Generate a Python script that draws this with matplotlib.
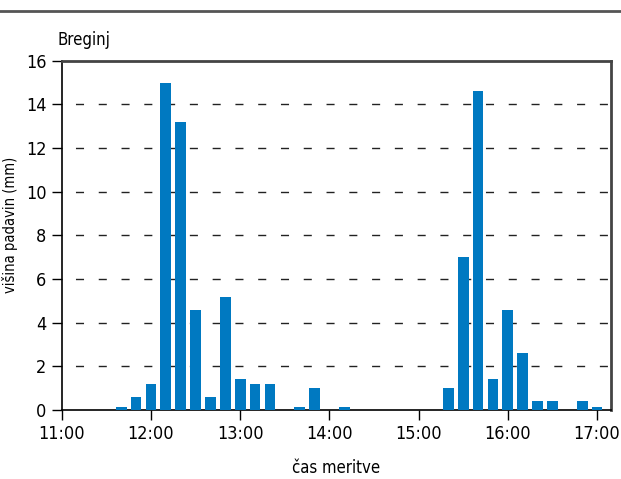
import matplotlib.pyplot as plt
from matplotlib.lines import Line2D

plt.rcParams['font.family'] = ['DejaVu Sans']
plt.rcParams['font.stretch'] = 'condensed'

# meritve na 10 minut
times = ['11:40', '11:50', '12:00', '12:10', '12:20', '12:30', '12:40', '12:50',
         '13:00', '13:10', '13:20', '13:40', '13:50', '14:10',
         '15:20', '15:30', '15:40', '15:50', '16:00', '16:10', '16:20', '16:30',
         '16:50', '17:00']
rain = [0.15, 0.6, 1.2, 15.0, 13.2, 4.6, 0.6, 5.2,
        1.4, 1.2, 1.2, 0.15, 1.0, 0.15,
        1.0, 7.0, 14.6, 1.4, 4.6, 2.6, 0.4, 0.4,
        0.4, 0.15]
tick_hours = [11, 12, 13, 14, 15, 16, 17]
tick_labels = ['11:00', '12:00', '13:00', '14:00', '15:00', '16:00', '17:00']
station = 'Breginj'


def to_hours(t):
    h, m = t.split(':')
    return int(h) + int(m) / 60


x = [to_hours(t) for t in times]

fig = plt.figure(figsize=(6.21, 4.79), dpi=100)
ax = fig.add_axes([0.0994, 0.144, 0.885, 0.729])

ax.bar(x, rain, width=0.12, color='#0079c1', zorder=3)

ax.set_xlim(11.0, 17.16)
ax.set_ylim(0, 16)
ax.set_yticks(range(0, 17, 2))
ax.set_xticks(tick_hours)
ax.set_xticklabels(tick_labels)

for y in range(2, 16, 2):
    ax.axhline(y, color='#222222', lw=1, linestyle=(6.7, (5.8, 10.6)), zorder=1)

for side in ['top', 'right']:
    ax.spines[side].set_color('#444444')
    ax.spines[side].set_linewidth(2)
for side in ['left', 'bottom']:
    ax.spines[side].set_color('black')
    ax.spines[side].set_linewidth(1.2)

ax.tick_params(axis='both', direction='out', length=7, width=1, labelsize=13, colors='black')
ax.tick_params(axis='y', pad=4)

ax.set_ylabel('višina padavin (mm)', fontsize=10.5)
ax.yaxis.set_label_coords(-0.08, 0.53)
ax.set_xlabel('čas meritve', fontsize=12, labelpad=12)
ax.text(-0.008, 1.035, station, transform=ax.transAxes, fontsize=12, ha='left', va='bottom')

# crta na vrhu
fig.add_artist(Line2D([0, 1], [0.977, 0.977], transform=fig.transFigure, color='#555555', lw=2))

fig.savefig('out.png', dpi=100)
